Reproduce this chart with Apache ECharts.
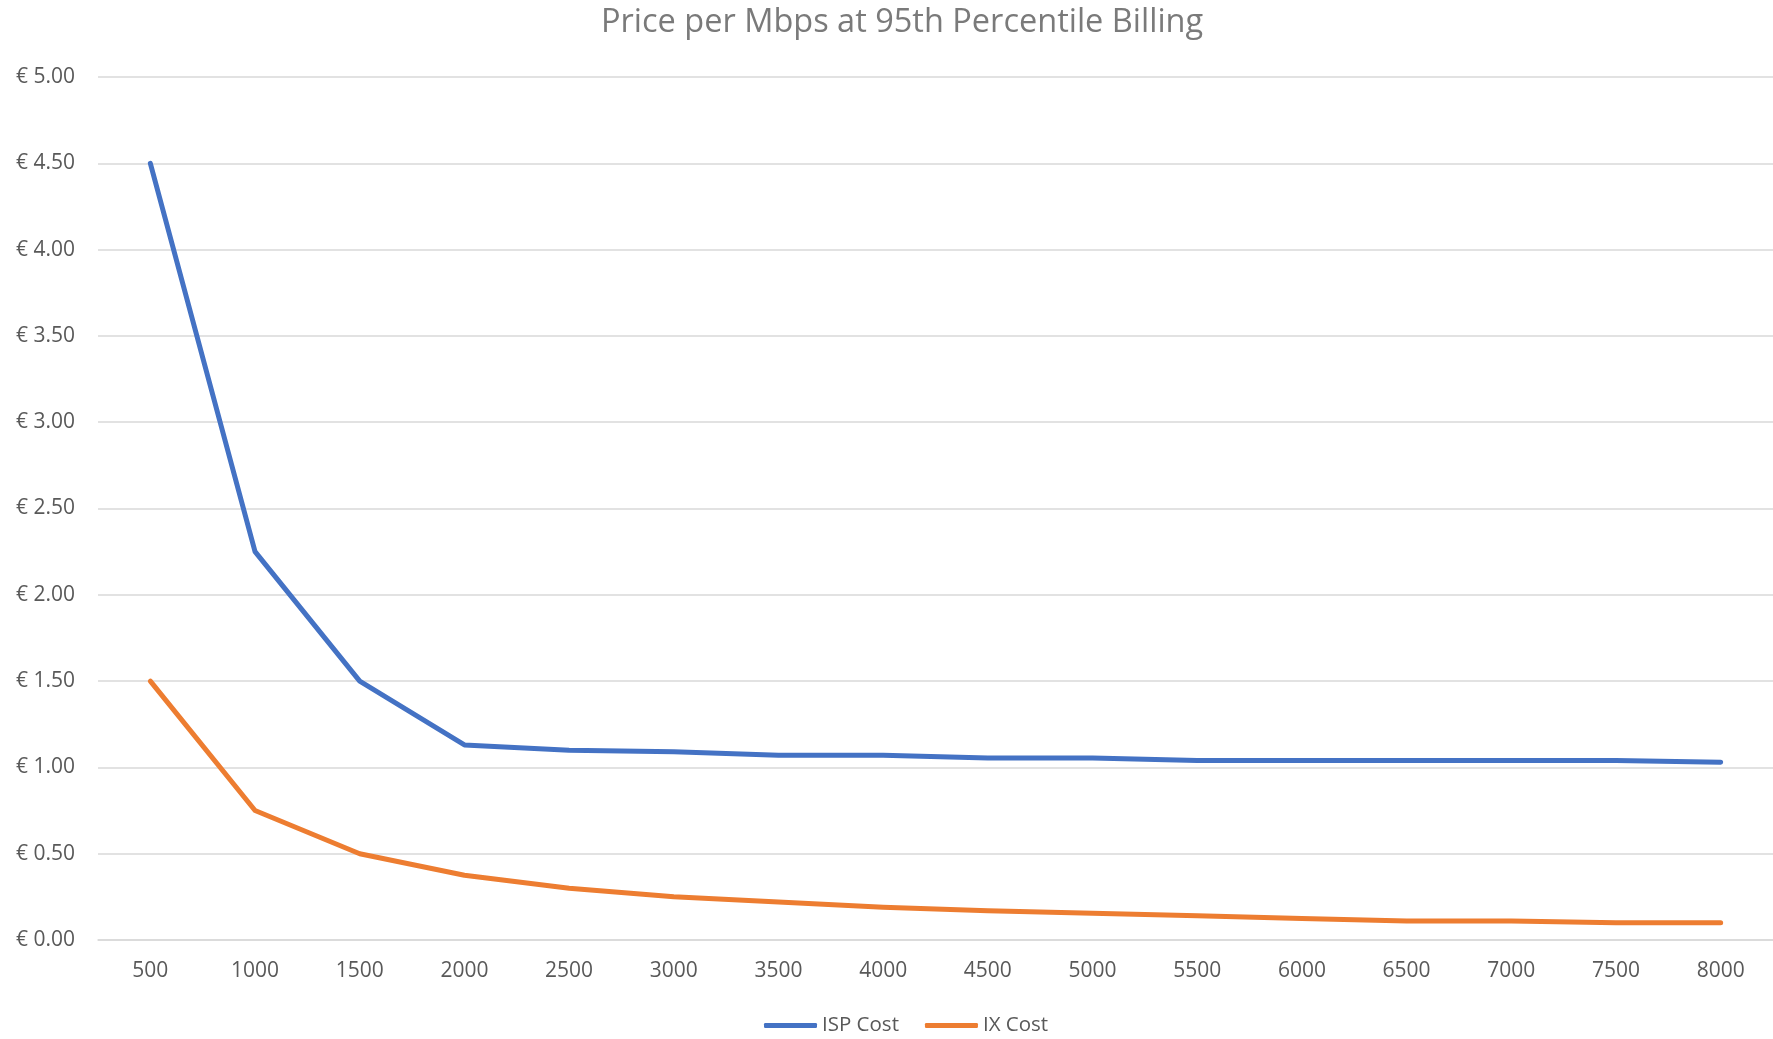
<!DOCTYPE html>
<html>
<head>
<meta charset="utf-8">
<script src="https://cdn.jsdelivr.net/npm/echarts@6/dist/echarts.min.js"></script>
<style>
html,body{margin:0;padding:0;background:#fff;}
#chart{width:1773px;height:1039px;}
</style>
</head>
<body>
<div id="chart"></div>
<script>
const categories = ['500','1000','1500','2000','2500','3000','3500','4000','4500','5000','5500','6000','6500','7000','7500','8000'];
const ispCost = [4.50, 2.25, 1.50, 1.13, 1.10, 1.09, 1.07, 1.07, 1.055, 1.055, 1.04, 1.04, 1.04, 1.04, 1.04, 1.03];
const ixCost = [1.50, 0.75, 0.50, 0.375, 0.30, 0.25, 0.22, 0.19, 0.17, 0.155, 0.14, 0.125, 0.11, 0.11, 0.10, 0.10];
const seriesNames = ['ISP Cost', 'IX Cost'];
const titleText = 'Price per Mbps at 95th Percentile Billing';

const FONT = 'Open Sans';
const chart = echarts.init(document.getElementById('chart'), null, {renderer: 'canvas'});
chart.setOption({
  animation: false,
  backgroundColor: '#ffffff',
  title: {
    text: titleText,
    left: 596,
    top: 1,
    textStyle: {fontFamily: FONT, fontSize: 32.5, fontWeight: 'normal', color: '#7a7a7a'}
  },
  legend: {
    top: 1010,
    left: 759,
    icon: 'roundRect',
    itemWidth: 53,
    itemHeight: 5,
    itemGap: 26,
    textStyle: {fontFamily: FONT, fontSize: 20.5, color: '#595959'},
    data: seriesNames
  },
  grid: {left: 98, top: 77, width: 1677, height: 863, containLabel: false},
  xAxis: {
    type: 'category',
    data: categories,
    boundaryGap: true,
    axisLine: {show: true, lineStyle: {color: '#d9d9d9', width: 1.5}},
    axisTick: {show: false},
    axisLabel: {fontFamily: FONT, fontSize: 21, color: '#595959', margin: 21}
  },
  yAxis: {
    type: 'value',
    min: 0,
    max: 5,
    interval: 0.5,
    axisLine: {show: false},
    axisTick: {show: false},
    splitLine: {lineStyle: {color: '#d9d9d9', width: 1.5}},
    axisLabel: {
      fontFamily: FONT, fontSize: 21, color: '#595959', margin: 23,
      formatter: v => '€ ' + v.toFixed(2)
    }
  },
  series: [
    {
      name: seriesNames[0], type: 'line', data: ispCost,
      showSymbol: false, symbol: 'none',
      lineStyle: {color: '#4472C4', width: 5, cap: 'round', join: 'round'},
      itemStyle: {color: '#4472C4'}
    },
    {
      name: seriesNames[1], type: 'line', data: ixCost,
      showSymbol: false, symbol: 'none',
      lineStyle: {color: '#ED7D31', width: 5, cap: 'round', join: 'round'},
      itemStyle: {color: '#ED7D31'}
    }
  ]
});
</script>
</body>
</html>
